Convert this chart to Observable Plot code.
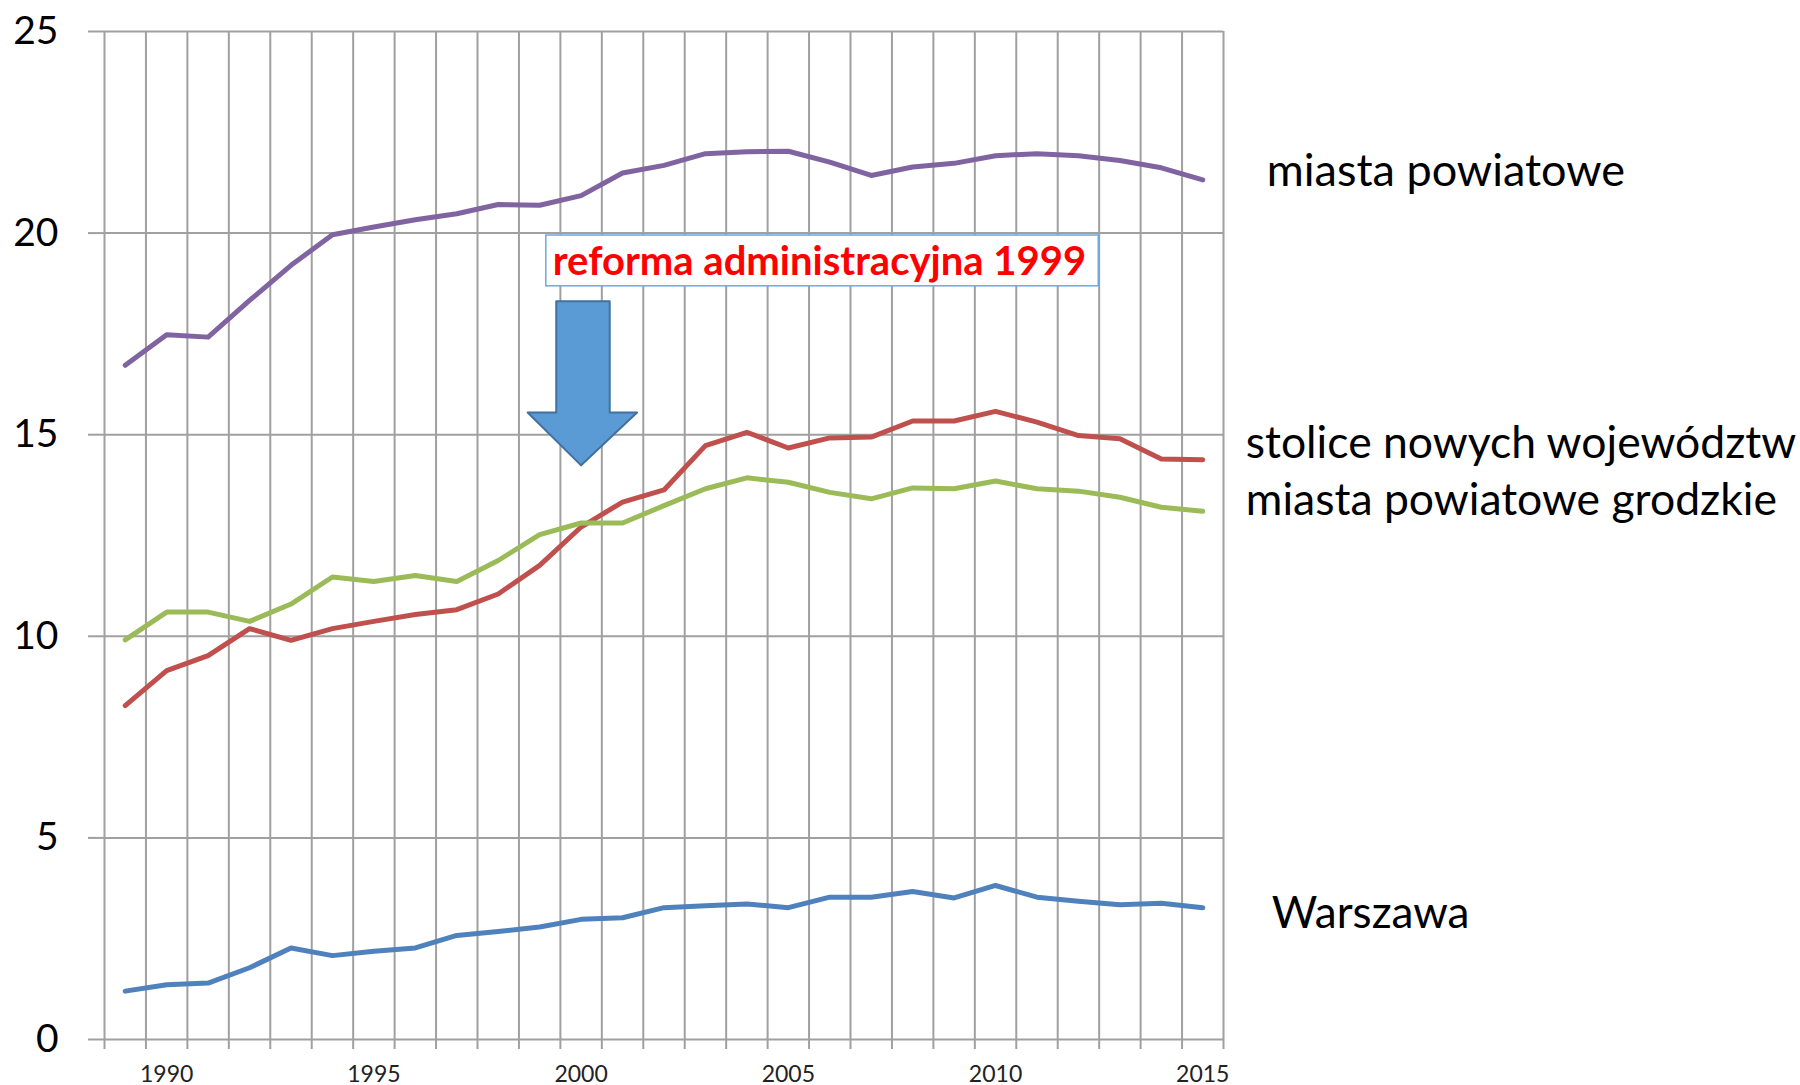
<!DOCTYPE html>
<html>
<head>
<meta charset="utf-8">
<script src="https://cdn.jsdelivr.net/npm/d3@7"></script>
<script src="https://cdn.jsdelivr.net/npm/@observablehq/plot@0.6"></script>
<style>
  html, body { margin: 0; padding: 0; background: #fff; }
</style>
</head>
<body>
<div id="chart"></div>
<script>
// ---- data ----
const years = [1989,1990,1991,1992,1993,1994,1995,1996,1997,1998,1999,2000,2001,2002,2003,2004,2005,2006,2007,2008,2009,2010,2011,2012,2013,2014,2015];
const miastaPowiatowe = [16.72,17.48,17.42,18.33,19.2,19.96,20.15,20.33,20.48,20.71,20.69,20.93,21.49,21.68,21.97,22.02,22.03,21.76,21.43,21.64,21.73,21.92,21.97,21.92,21.8,21.62,21.32];
const stoliceNowychWojewodztw = [8.28,9.15,9.52,10.19,9.9,10.19,10.37,10.54,10.66,11.05,11.76,12.71,13.33,13.63,14.73,15.06,14.67,14.92,14.94,15.34,15.34,15.58,15.31,14.98,14.9,14.4,14.38];
const miastaPowiatoweGrodzkie = [9.91,10.6,10.6,10.37,10.8,11.47,11.36,11.51,11.36,11.88,12.52,12.81,12.81,13.24,13.66,13.93,13.82,13.57,13.41,13.68,13.66,13.85,13.66,13.6,13.45,13.2,13.1];
const warszawa = [1.2,1.36,1.4,1.78,2.27,2.08,2.19,2.27,2.58,2.68,2.79,2.98,3.02,3.27,3.32,3.36,3.27,3.53,3.53,3.67,3.51,3.82,3.53,3.43,3.34,3.38,3.27];
const seriesNames = ["miasta powiatowe", "stolice nowych województw", "miasta powiatowe grodzkie", "Warszawa"];
const yTicks = [0, 5, 10, 15, 20, 25];
const xTickLabels = [1990, 1995, 2000, 2005, 2010, 2015];
const annotationText = "reforma administracyjna 1999";

// ---- styles / layout ----
const seriesValues = [miastaPowiatowe, stoliceNowychWojewodztw, miastaPowiatoweGrodzkie, warszawa];
const seriesColors = ["#8064A2", "#C0504D", "#9BBB59", "#4F81BD"];
const labelOffsets = [[64, 6], [43, -2], [43, 4], [69, 20]]; // dx, dy (px) from last point
const labelSizes = [45, 44.5, 44.5, 44];
const gridColor = "#a0a0a0";
// annotation placement in data space (year, value)
const annBox = {x1: 1999.16, x2: 2012.49, y1: 18.68, y2: 19.94};
const annLabel = {x: 2005.75, y: 19.27};
const arrowPts = [
  {x: 1999.4, y: 18.31}, {x: 2000.69, y: 18.31}, {x: 2000.69, y: 15.55}, {x: 2001.35, y: 15.55},
  {x: 2000.0, y: 14.24}, {x: 1998.71, y: 15.55}, {x: 1999.4, y: 15.55}, {x: 1999.4, y: 18.31}
];

const boundaries = years.map(y => y - 0.5).concat([years[years.length - 1] + 0.5]);

const rows = seriesNames.flatMap((name, k) =>
  years.map((yr, i) => ({year: yr, value: seriesValues[k][i], name}))
);

const marks = [
  Plot.ruleX(boundaries, {stroke: gridColor, strokeWidth: 2}),
  Plot.ruleY(yTicks, {stroke: gridColor, strokeWidth: 2}),
  Plot.axisY({ticks: yTicks, tickSize: 16, tickPadding: 30, stroke: gridColor, strokeWidth: 2,
              fill: "#000", fontSize: 39, label: null, tickFormat: d => String(d)}),
  Plot.axisX({ticks: boundaries, tickSize: 10, stroke: gridColor, strokeWidth: 2,
              tickFormat: () => "", label: null}),
  Plot.axisX({ticks: xTickLabels, tickSize: 0, tickPadding: 26, fontSize: 23,
              fill: "#222", tickFormat: d => String(d), label: null}),
];

seriesNames.forEach((name, k) => {
  const data = rows.filter(d => d.name === name);
  marks.push(Plot.line(data, {x: "year", y: "value", stroke: seriesColors[k], strokeWidth: 5,
                              strokeLinejoin: "round", strokeLinecap: "round"}));
  marks.push(Plot.text([data[data.length - 1]], {x: "year", y: "value", text: () => name,
                              textAnchor: "start", lineAnchor: "bottom", fontSize: labelSizes[k], fill: "#000",
                              dx: labelOffsets[k][0], dy: labelOffsets[k][1]}));
});

marks.push(
  Plot.rect([annBox], {x1: "x1", x2: "x2", y1: "y1", y2: "y2", fill: "#fff", stroke: "#6FA8DC", strokeWidth: 1.5}),
  Plot.text([annLabel], {x: "x", y: "y", text: () => annotationText, fill: "#FF0000", fontWeight: "bold",
                         fontSize: 40, textAnchor: "middle", lineAnchor: "middle"}),
  Plot.line(arrowPts, {x: "x", y: "y", fill: "#5B9BD5", stroke: "#41719C", strokeWidth: 2, curve: "linear"})
);

const chart = Plot.plot({
  width: 1800,
  height: 1085,
  marginLeft: 104,
  marginRight: 577,
  marginTop: 31,
  marginBottom: 46,
  style: {fontFamily: "Lato, sans-serif", background: "#fff", overflow: "visible"},
  x: {domain: [1988.5, 2015.5]},
  y: {domain: [0, 25]},
  marks
});
document.getElementById("chart").appendChild(chart);
</script>
</body>
</html>
